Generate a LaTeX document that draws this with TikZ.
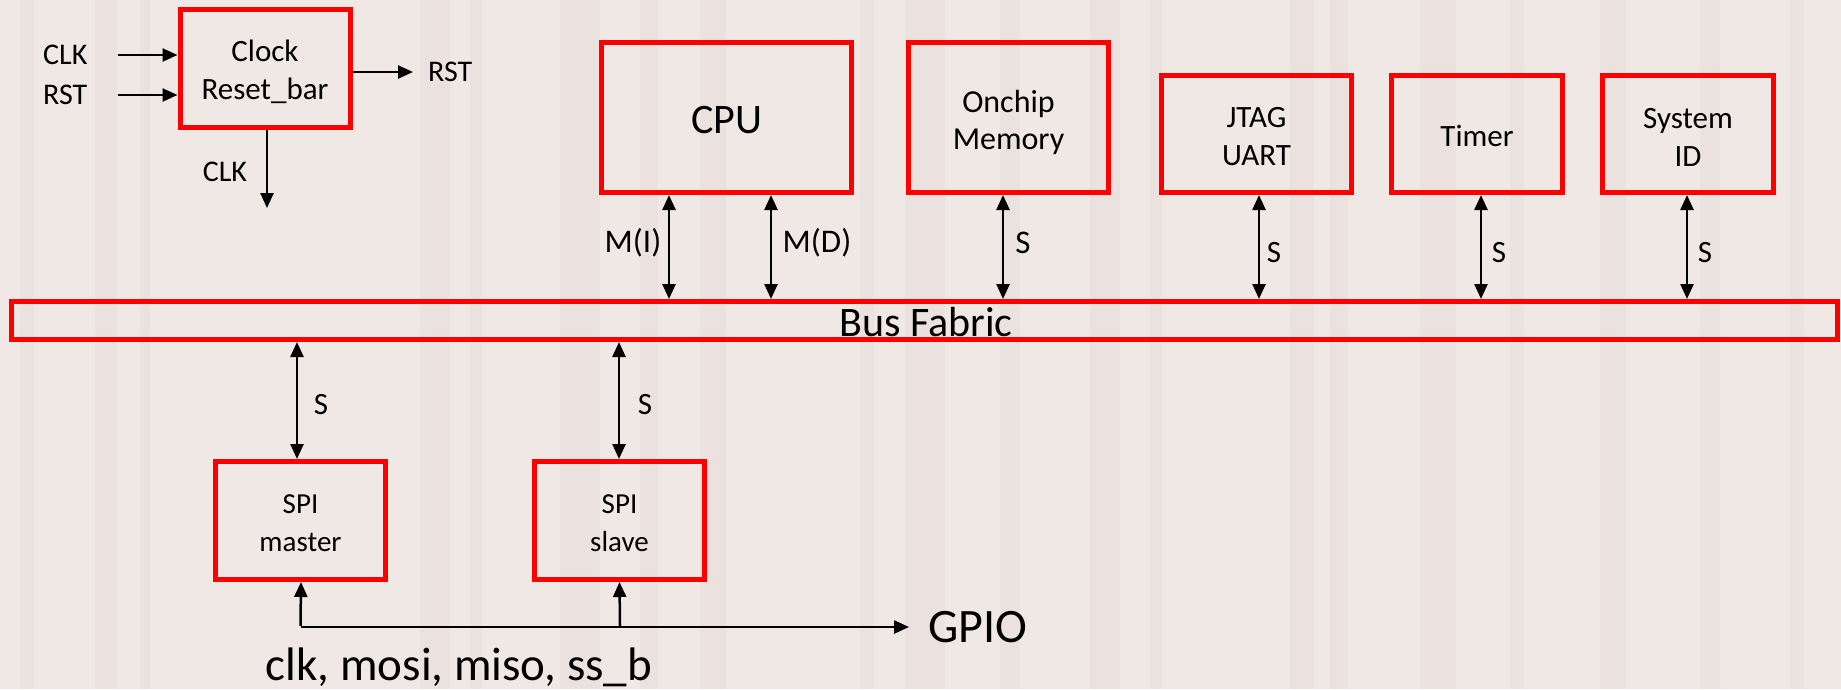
\documentclass[tikz,border=0pt]{standalone}
\usepackage{fontspec}
\setmainfont{Carlito}
\usetikzlibrary{arrows.meta}
\definecolor{bg}{RGB}{239,232,229}
\definecolor{stripe}{RGB}{214,196,190}
\newcommand{\fs}[2]{\fontsize{#1}{#2}\selectfont}
\begin{document}
\begin{tikzpicture}[x=1pt,y=-1pt,
  blk/.style={draw=red, line width=5pt, rectangle, inner sep=0pt},
  lbl/.style={inner sep=0pt, align=center},
  tip/.tip={Triangle[length=15pt,width=13pt]},
  arr/.style={-tip, line width=2.5pt},
  bi/.style={tip-tip, line width=2.5pt},
  wire/.style={line width=2.5pt}]
% page and faint backdrop
\useasboundingbox (0,0) rectangle (1841,689);
\fill[bg] (0,0) rectangle (1841,689);
\foreach \x/\w in {20/14,95/22,140/10,420/30,470/12,560/40,640/18,700/26,860/14,905/40,1000/20,1090/30,1150/12,1290/24,1330/18,1420/36,1510/14,1600/26,1700/20,1790/14}
  \fill[stripe, opacity=0.15] (\x,0) rectangle (\x+\w,689);

% clock / reset block
\node[blk, minimum width=170pt, minimum height=118pt] (clk) at (265,68.5) {};
\node[lbl, font=\fs{31}{38}] (clkT) at (265,72) {Clock\\Reset\_bar};
\node[lbl, anchor=west, font=\fs{30}{36}] (clkin) at (43,55) {CLK};
\node[lbl, anchor=west, font=\fs{30}{36}] (rstin) at (43,95) {RST};
\node[lbl, anchor=west, font=\fs{30}{36}] (rstout) at (428,72) {RST};
\node[lbl, font=\fs{30}{36}] (clkout) at (225,172) {CLK};
\coordinate (clkinS) at (118,55);
\coordinate (rstinS) at (118,95);
\coordinate (rstoutE) at (413,72);
\coordinate (clkoutE) at (267,208);
\draw[arr] (clkinS) -- (clkinS -| clk.west);
\draw[arr] (rstinS) -- (rstinS -| clk.west);
\draw[arr] (rstoutE -| clk.east) -- (rstoutE);
\draw[arr] (clkoutE |- clk.south) -- (clkoutE);

% top row of peripherals
\node[blk, minimum width=250pt, minimum height=150pt] (cpu) at (726.5,117.5) {};
\node[blk, minimum width=200pt, minimum height=150pt] (mem) at (1008.5,117.5) {};
\node[blk, minimum width=190pt, minimum height=117pt] (jtag) at (1256.5,134) {};
\node[blk, minimum width=171pt, minimum height=117pt] (timer) at (1477,134) {};
\node[blk, minimum width=171pt, minimum height=117pt] (sysid) at (1688,134) {};
\node[lbl, font=\fs{42}{50}] (cpuT) at (727,120) {CPU};
\node[lbl, font=\fs{32}{37}] (memT) at (1008.5,122) {Onchip\\Memory};
\node[lbl, font=\fs{31}{38}] (jtagT) at (1256.5,137) {JTAG\\UART};
\node[lbl, font=\fs{31}{38}] (timerT) at (1477,136) {Timer};
\node[lbl, font=\fs{31}{38}] (sysidT) at (1688,137) {System\\ID};

% bus
\node[blk, minimum width=1826pt, minimum height=38pt] (bus) at (924.5,320.5) {};
\node[lbl, font=\fs{42}{50}] (busT) at (926,322) {Bus Fabric};

% bottom peripherals
\node[blk, minimum width=170pt, minimum height=118pt] (spim) at (300.5,520.5) {};
\node[blk, minimum width=170pt, minimum height=118pt] (spis) at (619.5,520.5) {};
\node[lbl, font=\fs{29}{38}] (spimT) at (300.5,523) {SPI\\master};
\node[lbl, font=\fs{29}{38}] (spisT) at (619.5,523) {SPI\\slave};

% bus connections
\coordinate (xmi) at (669,0);
\coordinate (xmd) at (771,0);
\coordinate (xmem) at (1003,0);
\coordinate (xjtag) at (1259,0);
\coordinate (xtim) at (1481,0);
\coordinate (xsys) at (1687,0);
\coordinate (xspim) at (297,0);
\coordinate (xspis) at (619,0);
\draw[bi] (cpu.south -| xmi) -- (bus.north -| xmi);
\draw[bi] (cpu.south -| xmd) -- (bus.north -| xmd);
\draw[bi] (mem.south -| xmem) -- (bus.north -| xmem);
\draw[bi] (jtag.south -| xjtag) -- (bus.north -| xjtag);
\draw[bi] (timer.south -| xtim) -- (bus.north -| xtim);
\draw[bi] (sysid.south -| xsys) -- (bus.north -| xsys);
\draw[bi] (bus.south -| xspim) -- (spim.north -| xspim);
\draw[bi] (bus.south -| xspis) -- (spis.north -| xspis);

\node[lbl, font=\fs{33}{40}] (lmi) at (633,243) {M(I)};
\node[lbl, font=\fs{33}{40}] (lmd) at (817,243) {M(D)};
\node[lbl, font=\fs{33}{40}] (lmem) at (1023,243) {S};
\node[lbl, font=\fs{31}{38}] (ljtag) at (1274,253) {S};
\node[lbl, font=\fs{31}{38}] (ltim) at (1499,253) {S};
\node[lbl, font=\fs{31}{38}] (lsys) at (1705,253) {S};
\node[lbl, font=\fs{31}{38}] (lspim) at (321,405) {S};
\node[lbl, font=\fs{31}{38}] (lspis) at (645,405) {S};

% SPI wiring to GPIO
\node[lbl, anchor=west, font=\fs{48}{56}] (gpio) at (928,627) {GPIO};
\node[lbl, anchor=base, font=\fs{47}{56}] (sig) at (459,680) {clk, mosi, miso, ss\_b};
\coordinate (j) at (620,627);
\coordinate (gpioE) at (909,627);
\draw[wire] ([xshift=1.25pt]j) -- (j -| spim.south) coordinate (m);
\draw[arr] ([yshift=1.25pt]m) -- ([xshift=0.5pt]spim.south);
\draw[arr] ([yshift=1.25pt]j) -- (spis.south);
\draw[arr] ([xshift=-1.25pt]j) -- (gpioE);
\end{tikzpicture}
\end{document}
